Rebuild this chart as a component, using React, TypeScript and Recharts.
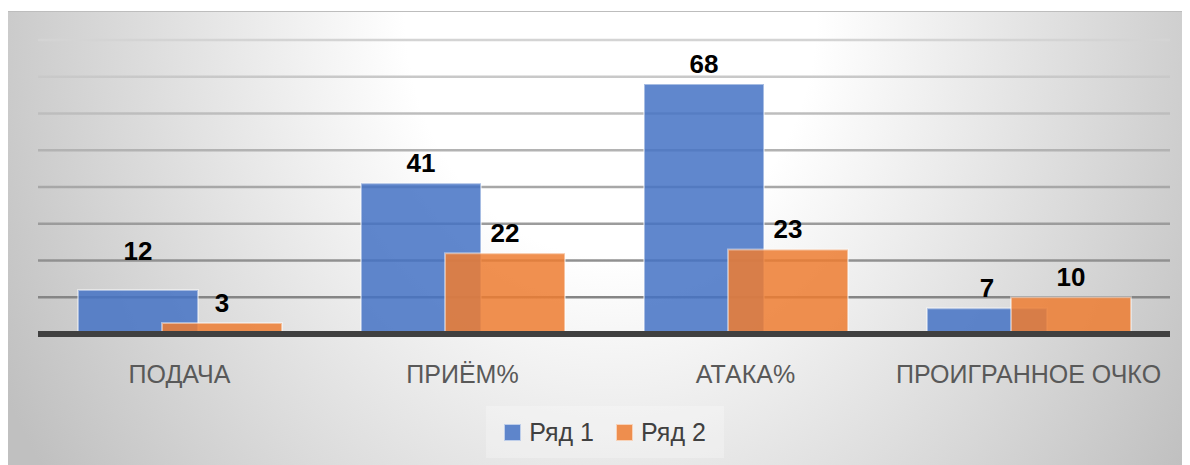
import { BarChart, Bar, XAxis, YAxis, CartesianGrid, Legend, LabelList } from 'recharts'

const categories = ['ПОДАЧА', 'ПРИЁМ%', 'АТАКА%', 'ПРОИГРАННОЕ ОЧКО']
const series1 = [12, 41, 68, 7]
const series2 = [3, 22, 23, 10]
const yTicks = [0, 10, 20, 30, 40, 50, 60, 70, 80]

const data = categories.map((name, i) => ({ name, s1: series1[i], s2: series2[i] }))

const FONT = '"Liberation Sans", Arial, sans-serif'
const BLUE = 'rgba(68, 114, 196, 0.85)'
const ORANGE = 'rgba(237, 125, 49, 0.85)'

// the "12" label sits higher in the original, moved by hand
const renderLabel = (lift: (i: number) => number) => (props: any) => {
  const { x, y, width, value, index } = props
  return (
    <text
      x={Number(x) + Number(width) / 2}
      y={Number(y) - 11 - lift(index)}
      textAnchor="middle"
      fontFamily={FONT}
      fontSize={26}
      fontWeight="bold"
      fill="#000"
    >
      {value}
    </text>
  )
}

const renderLegend = (props: any) => {
  const { payload } = props
  return (
    <div
      style={{
        width: 238,
        height: 52,
        background: 'rgba(255,255,255,0.25)',
        display: 'flex',
        alignItems: 'center',
        justifyContent: 'center',
        gap: 22,
        fontFamily: FONT,
        fontSize: 25,
        color: '#404040',
      }}
    >
      {(payload || []).map((p: any) => (
        <div key={p.value} style={{ display: 'flex', alignItems: 'center', gap: 8 }}>
          <span
            style={{
              display: 'inline-block',
              width: 15,
              height: 15,
              background: p.color,
              border: '1px solid rgba(255,255,255,0.6)',
            }}
          />
          <span>{p.value}</span>
        </div>
      ))}
    </div>
  )
}

export default function App() {
  return (
    <div
      style={{
        marginLeft: -1,
        marginTop: 3,
        width: 1183,
        height: 454,
        boxSizing: 'border-box',
        borderTop: '1px solid #bdbdbd',
        borderLeft: '1px solid #bdbdbd',
        background:
          'radial-gradient(ellipse 58% 180% at 51% 0%, #ffffff 0%, #ffffff 30%, #c0c0c0 100%)',
      }}
    >
      <BarChart
        width={1182}
        height={453}
        data={data}
        margin={{ top: 28, right: 20, bottom: 91, left: 30 }}
        barSize={120}
        barGap={-36}
      >
        <defs>
          <linearGradient id="gridGrad" gradientUnits="userSpaceOnUse" x1="0" y1="28" x2="0" y2="322">
            <stop offset="0%" stopColor="#d4d4d4" />
            <stop offset="100%" stopColor="#7a7a7a" />
          </linearGradient>
        </defs>
        <CartesianGrid vertical={false} stroke="url(#gridGrad)" strokeWidth={2.5} />
        <YAxis hide domain={[0, 80]} ticks={yTicks} />
        <XAxis
          dataKey="name"
          height={40}
          axisLine={{ stroke: '#404040', strokeWidth: 6 }}
          tickLine={false}
          tickSize={0}
          tickMargin={31}
          tick={{ fill: '#595959', fontSize: 25, fontFamily: FONT }}
          interval={0}
        />
        <Legend
          layout="horizontal"
          verticalAlign="middle"
          align="center"
          content={renderLegend}
          wrapperStyle={{ position: 'absolute', left: 478, top: 394, width: 238, height: 52 }}
        />
        <Bar dataKey="s1" name="Ряд 1" fill={BLUE} stroke="rgba(255,255,255,0.45)" strokeWidth={2} isAnimationActive={false}>
          <LabelList dataKey="s1" content={renderLabel((i) => (i === 0 ? 19 : 0))} />
        </Bar>
        <Bar dataKey="s2" name="Ряд 2" fill={ORANGE} stroke="rgba(255,255,255,0.45)" strokeWidth={2} isAnimationActive={false}>
          <LabelList dataKey="s2" content={renderLabel(() => 0)} />
        </Bar>
      </BarChart>
    </div>
  )
}
